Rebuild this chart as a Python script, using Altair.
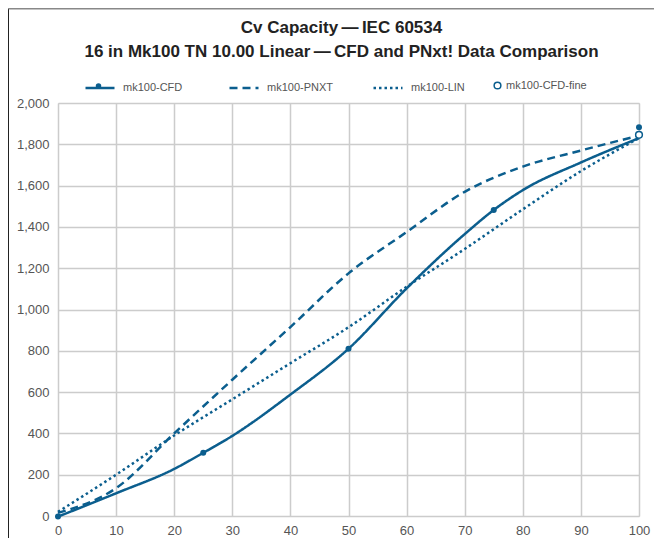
import altair as alt
import pandas as pd

BLUE = "#0b5e8e"
FONT = "Liberation Sans"

# ---------------- data ----------------
series_names = ["mk100-CFD", "mk100-PNXT", "mk100-LIN"]
fine_name = "mk100-CFD-fine"

cfd_x = [0, 10, 20, 25, 30, 40, 50, 60, 70, 75, 80, 90, 100]
cfd_y = [-3, 110, 228, 306, 388, 588, 810, 1102, 1365, 1482, 1578, 1712, 1830]

cfd_marker_x = [0, 25, 50, 75, 100]
cfd_marker_y = [-3, 306, 810, 1482, 1882]

pnxt_x = [0, 10, 20, 30, 40, 50, 60, 70, 80, 90, 100]
pnxt_y = [15, 135, 400, 660, 915, 1175, 1375, 1570, 1692, 1770, 1842]

lin_x = [0, 10, 20, 30, 40, 50, 60, 70, 80, 90, 100]
lin_y = [20, 200, 390, 565, 740, 914, 1110, 1293, 1485, 1670, 1830]

fine_x = [100]
fine_y = [1846]

x_ticks = [0, 10, 20, 30, 40, 50, 60, 70, 80, 90, 100]
y_ticks = [0, 200, 400, 600, 800, 1000, 1200, 1400, 1600, 1800, 2000]

title_lines = [
    "Cv Capacity\u2009\u2014\u2009IEC 60534",
    "16 in Mk100 TN 10.00 Linear\u2009\u2014\u2009CFD and PNxt! Data Comparison",
]

# ---------------- tables ----------------
lines_df = pd.concat([
    pd.DataFrame({"series": series_names[0], "x": cfd_x, "y": cfd_y}),
    pd.DataFrame({"series": series_names[1], "x": pnxt_x, "y": pnxt_y}),
    pd.DataFrame({"series": series_names[2], "x": lin_x, "y": lin_y}),
], ignore_index=True)
markers_df = pd.DataFrame({"series": series_names[0], "x": cfd_marker_x, "y": cfd_marker_y})
fine_df = pd.DataFrame({"series": fine_name, "x": fine_x, "y": fine_y})
one_df = pd.DataFrame({"k": [0]})

W, H = 581, 413
PAD = {"left": 50, "top": 95, "right": 15, "bottom": 22}

x_enc = alt.X(
    "x:Q",
    scale=alt.Scale(domain=[0, 100], nice=False, zero=False),
    axis=alt.Axis(values=x_ticks, title=None, grid=True, ticks=False, domain=False,
                  labelFlush=False, labelPadding=8, labelFontSize=13, labelColor="#555",
                  labelFont=FONT, gridColor="#cccccc", gridWidth=1.5),
)
y_enc = alt.Y(
    "y:Q",
    scale=alt.Scale(domain=[0, 2000], nice=False, zero=False),
    axis=alt.Axis(values=y_ticks, format=",d", title=None, grid=True, ticks=False, domain=False,
                  labelFlush=False, labelPadding=9, labelFontSize=13, labelColor="#555",
                  labelFont=FONT, gridColor="#cccccc", gridWidth=1.5),
)

lines = alt.Chart(lines_df).mark_line(
    interpolate="monotone", color=BLUE, strokeWidth=2.5
).encode(
    x=x_enc,
    y=y_enc,
    strokeDash=alt.StrokeDash(
        "series:N",
        scale=alt.Scale(domain=series_names, range=[[1, 0], [8, 5], [2.5, 3]]),
        legend=alt.Legend(
            orient="none", legendX=26, legendY=-31, direction="horizontal", title=None,
            symbolType="stroke", symbolSize=841, symbolStrokeWidth=2.5,
            symbolStrokeColor=BLUE, labelFont=FONT, labelFontSize=11, labelColor="#555",
            labelOffset=7, columnPadding=34, gridAlign="all", padding=0,
        ),
    ),
)

markers = alt.Chart(markers_df).mark_circle(size=36, color=BLUE, opacity=1).encode(
    x="x:Q", y="y:Q"
)

fine_bg = alt.Chart(fine_df).mark_circle(size=45, color="white", opacity=1).encode(
    x="x:Q", y="y:Q"
)

fine = alt.Chart(fine_df).mark_point(
    filled=False, color=BLUE, strokeWidth=1.5, size=45, opacity=1
).encode(
    x="x:Q",
    y="y:Q",
    shape=alt.Shape(
        "series:N",
        scale=alt.Scale(domain=[fine_name], range=["circle"]),
        legend=alt.Legend(
            orient="none", legendX=434, legendY=-23, title=None,
            symbolSize=45, symbolStrokeWidth=1.5, symbolStrokeColor=BLUE,
            labelFont=FONT, labelFontSize=11,
            labelColor="#555", labelOffset=3, padding=0,
        ),
    ),
)

# legend dot for the CFD entry (decoration)
legend_dot = alt.Chart(one_df).mark_circle(size=30, color=BLUE, opacity=1).encode(
    x=alt.value(40.5), y=alt.value(-17)
)

# outer frame (decoration)
frame_left = alt.Chart(one_df).mark_rule(color="#222", strokeWidth=1).encode(
    x=alt.value(-PAD["left"] + 0.5), y=alt.value(-PAD["top"] + 0.5),
    y2=alt.value(H + PAD["bottom"]),
)
frame_top = alt.Chart(one_df).mark_rule(color="#888", strokeWidth=1.5).encode(
    x=alt.value(-PAD["left"] + 0.5), x2=alt.value(W + PAD["right"]),
    y=alt.value(-PAD["top"] + 0.75),
)

chart = alt.layer(
    frame_left, frame_top, lines, markers, fine_bg, fine, legend_dot
).properties(
    width=W,
    height=H,
    padding=PAD,
    autosize=alt.AutoSizeParams(type="none"),
    title=alt.TitleParams(
        text=title_lines, font=FONT, fontSize=17, fontWeight="bold", color="#222",
        lineHeight=24, anchor="middle", frame="group", offset=-53, dx=-7,
    ),
).resolve_legend(
    strokeDash="independent", shape="independent"
).configure_view(
    strokeWidth=0
).configure(
    font=FONT
)

chart.save("out.html", embed_options={"renderer": "svg", "actions": False})
